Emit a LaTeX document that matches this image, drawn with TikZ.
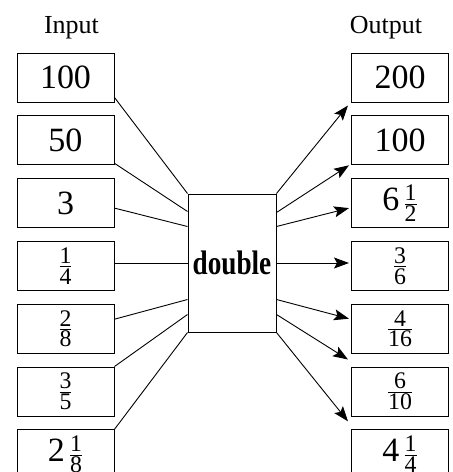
\documentclass[tikz,border=0pt]{standalone}
\usepackage{amsmath}
\usepackage{fontspec}
\setmainfont{Liberation Serif}
\usetikzlibrary{arrows.meta,calc}
\newcommand{\fr}[2]{$\frac{\text{#1}}{\text{#2}}$}
\newcommand{\mx}[3]{#1$\,\frac{\text{#2}}{\text{#3}}$}
\begin{document}
\begin{tikzpicture}[x=1pt,y=-1pt,
  valbox/.style={draw,line width=1pt,minimum width=97pt,minimum height=49pt,inner sep=0pt,
    font=\fontsize{34}{40}\selectfont},
  fnbox/.style={draw,line width=1pt,minimum width=88pt,minimum height=138pt,inner sep=0pt},
  headlbl/.style={anchor=base,inner sep=0pt,font=\fontsize{26}{30}\selectfont},
  conn/.style={line width=0.9pt},
  arr/.style={line width=0.9pt,-{Stealth[length=15pt,width=11pt,inset=3pt]}}]
\useasboundingbox (0,0) rectangle (453,472);
\clip (0,0) rectangle (453,472);
\node[headlbl] (inlbl) at (71.5,33) {Input};
\node[headlbl] (outlbl) at (386,33) {Output};
% left boxes
\node[valbox] (l1) at (65.5,77.5) {100};
\node[valbox] (l2) at (65.5,140.3) {50};
\node[valbox] (l3) at (65.5,203.1) {3};
\node[valbox] (l4) at (65.5,265.9) {\fr{1}{4}};
\node[valbox] (l5) at (65.5,328.7) {\fr{2}{8}};
\node[valbox] (l6) at (65.5,391.5) {\fr{3}{5}};
\node[valbox] (l7) at (65.5,454.3) {\mx{2}{1}{8}};
% right boxes
\node[valbox] (r1) at (400,77.5) {200};
\node[valbox] (r2) at (400,140.3) {100};
\node[valbox] (r3) at (400,203.1) {\mx{6}{1}{2}};
\node[valbox] (r4) at (400,265.9) {\fr{3}{6}};
\node[valbox] (r5) at (400,328.7) {\fr{4}{16}};
\node[valbox] (r6) at (400,391.5) {\fr{6}{10}};
\node[valbox] (r7) at (400,454.3) {\mx{4}{1}{4}};
% function box
\node[fnbox] (f) at (232,263) {\scalebox{0.8}[1]{\fontsize{34}{40}\selectfont\bfseries double}};
% inputs
\draw[conn] ([yshift=5pt]l1.south east) -- (f.north west);
\draw[conn] ([yshift=2pt]l2.south east) -- ([yshift=-18pt]f.north west);
\draw[conn] ([yshift=-5pt]l3.east) -- ([yshift=-33pt]f.north west);
\draw[conn] (f.west -| l4.east) -- (f.west);
\draw[conn] ([yshift=9.5pt]l5.east) -- ([yshift=33pt]f.south west);
\draw[conn] (l6.north east) -- ([yshift=18pt]f.south west);
\draw[conn] (l7.north east) -- (f.south west);
% outputs
\coordinate (t4) at ($(f.east -| r4.west)+(-2,0)$);
\draw[arr] (f.north east) -- ([xshift=-3pt,yshift=-3pt]r1.south west);
\draw[arr] ([yshift=-19pt]f.north east) -- ([xshift=-2pt]r2.south west);
\draw[arr] ([yshift=-33pt]f.north east) -- ([xshift=-2pt,yshift=-5pt]r3.west);
\draw[arr] (f.east) -- (t4);
\draw[arr] ([yshift=33pt]f.south east) -- ([xshift=-2pt,yshift=10pt]r5.west);
\draw[arr] ([yshift=18pt]f.south east) -- ([xshift=-3pt,yshift=7pt]r6.north west);
\draw[arr] (f.south east) -- ([xshift=-3pt,yshift=8pt]r7.north west);
\end{tikzpicture}
\end{document}
